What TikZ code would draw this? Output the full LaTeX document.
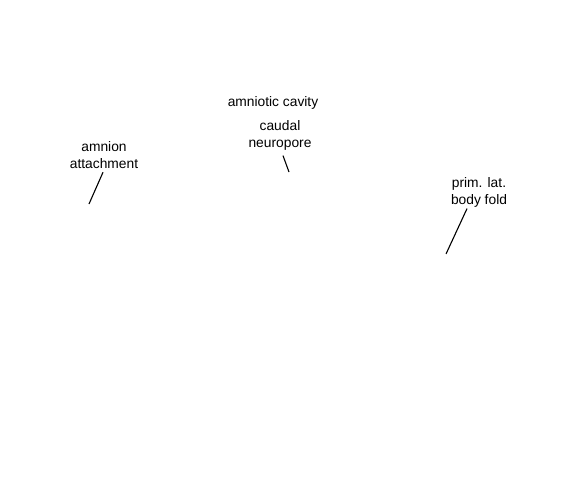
\documentclass[tikz,border=0pt]{standalone}
\usepackage{fontspec}
\setmainfont{Liberation Sans}
\usetikzlibrary{positioning}

\begin{document}
\begin{tikzpicture}[x=1pt, y=-1pt,
    tag/.style={align=center, inner sep=1.5pt,
                font=\fontsize{13.8}{17}\selectfont},
    leader/.style={draw=black, line width=1.1pt}]
    \useasboundingbox (0,0) rectangle (561,495);

    % labels
    \node[tag] (cavity) at (273,103) {amniotic cavity};
    \node[tag] (neuropore) at (280,135) {caudal\\neuropore};
    \node[tag] (attach) at (104,155) {amnion\\attachment};
    \node[tag] (bodyfold) at (479,192) {prim. lat.\\body fold};

    % leader ends
    \coordinate (neuropore-tip) at (289,172);
    \coordinate (attach-tip) at (89,204);
    \coordinate (bodyfold-tip) at (446,254);

    \draw[leader] ([xshift=3pt,yshift=-4pt]neuropore.south) -- (neuropore-tip);
    \draw[leader] ([xshift=-1pt,yshift=-2pt]attach.south) -- (attach-tip);
    \draw[leader] ([xshift=-12pt]bodyfold.south) -- (bodyfold-tip);
\end{tikzpicture}
\end{document}
